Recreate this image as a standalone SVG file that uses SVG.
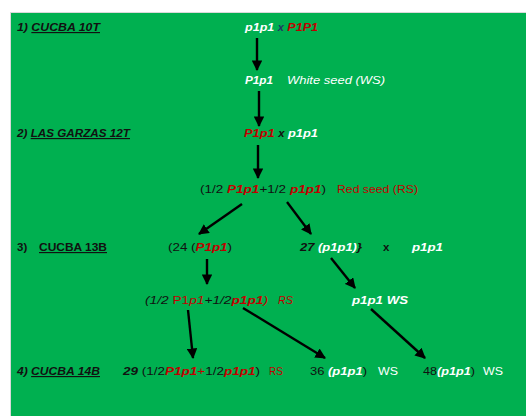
<svg xmlns="http://www.w3.org/2000/svg" width="526" height="416" viewBox="0 0 526 416">
<style>
text{font-family:"Liberation Sans",Arial,sans-serif;font-size:11.5px;fill:#111}
.bi{font-weight:bold;font-style:italic}
.i{font-style:italic}
.b{font-weight:bold}
.n{font-weight:normal;font-style:normal}
.w{fill:#ffffff}
.r{fill:#C00000}
.k{fill:#111111}
.nv{fill:#1F3864}
.u{text-decoration:underline}
.c{stroke:#000;stroke-width:2.4;fill:none;marker-end:url(#ah)}
</style>
<defs>
<marker id="ah" viewBox="0 0 10 10" refX="9" refY="5" markerWidth="4.4" markerHeight="4.4" orient="auto" markerUnits="strokeWidth">
<path d="M0,0 L10,5 L0,10 Z" fill="#000"/>
</marker>
</defs>
<rect x="0" y="0" width="526" height="416" fill="#ffffff"/>
<rect x="10.5" y="12.5" width="520" height="410" fill="#00B050" stroke="#d9d9d9" stroke-width="1"/>

<g id="labels">
<text class="bi" x="17" y="31" textLength="83" lengthAdjust="spacingAndGlyphs">1) <tspan class="u">CUCBA 10T</tspan></text>
<text class="bi" x="17" y="137" textLength="113" lengthAdjust="spacingAndGlyphs">2) <tspan class="u">LAS GARZAS 12T</tspan></text>
<text class="b" x="17" y="251">3)</text>
<text class="b u" x="39" y="251" textLength="68" lengthAdjust="spacingAndGlyphs">CUCBA 13B</text>
<text class="bi" x="17" y="375" textLength="83" lengthAdjust="spacingAndGlyphs">4) <tspan class="u">CUCBA 14B</tspan></text>
</g>

<g id="n1">
<text class="bi" x="245" y="31" textLength="73" lengthAdjust="spacingAndGlyphs"><tspan class="w">p1p1</tspan> <tspan class="nv" font-size="10">x</tspan> <tspan class="r">P1P1</tspan></text>
</g>
<g id="n2">
<text class="bi w" x="245" y="84" textLength="28" lengthAdjust="spacingAndGlyphs">P1p1</text>
<text class="i w" x="287" y="84" textLength="98" lengthAdjust="spacingAndGlyphs">White seed (WS)</text>
</g>
<g id="n3">
<text class="bi" x="244" y="137" textLength="74" lengthAdjust="spacingAndGlyphs"><tspan class="r">P1p1</tspan> <tspan class="k" font-size="10">x</tspan> <tspan class="w">p1p1</tspan></text>
</g>
<g id="n4">
<text x="200" y="193" textLength="126" lengthAdjust="spacingAndGlyphs">(1/2 <tspan class="bi r">P1p1</tspan>+1/2 <tspan class="bi r">p1p1</tspan>)</text>
<text class="r" x="337" y="193" textLength="81" lengthAdjust="spacingAndGlyphs">Red seed (RS)</text>
</g>
<g id="n5">
<text x="168" y="251" textLength="64" lengthAdjust="spacingAndGlyphs">(24 (<tspan class="bi r">P1p1</tspan>)</text>
</g>
<g id="n6">
<text class="bi" x="300" y="251" textLength="62" lengthAdjust="spacingAndGlyphs">27 <tspan class="w">(p1p1)</tspan>}</text>
<text class="b" x="383" y="251" font-size="10">x</text>
<text class="bi w" x="412" y="251" textLength="31" lengthAdjust="spacingAndGlyphs">p1p1</text>
</g>
<g id="n7">
<text class="i" x="145" y="304" textLength="123" lengthAdjust="spacingAndGlyphs">(1/2 <tspan class="r b n">P1</tspan><tspan class="r i">p1</tspan>+1/2<tspan class="r bi">p1p1</tspan><tspan class="r">)</tspan></text>
<text class="i r" x="278" y="304" textLength="15" lengthAdjust="spacingAndGlyphs">RS</text>
</g>
<g id="n8">
<text class="bi w" x="352" y="304" textLength="56" lengthAdjust="spacingAndGlyphs">p1p1  WS</text>
</g>
<g id="n9">
<text x="123" y="375" textLength="137" lengthAdjust="spacingAndGlyphs"><tspan class="bi">29</tspan> (1/2<tspan class="bi r">P1p1</tspan><tspan class="r">+</tspan>1/2<tspan class="bi r">p1p1</tspan>)</text>
<text class="r" x="269" y="375" textLength="14" lengthAdjust="spacingAndGlyphs">RS</text>
</g>
<g id="n10">
<text x="310" y="375" textLength="57" lengthAdjust="spacingAndGlyphs">36 <tspan class="bi w">(p1p1</tspan>)</text>
<text class="w" x="378" y="375" textLength="20" lengthAdjust="spacingAndGlyphs">WS</text>
</g>
<g id="n11">
<text x="423" y="375" textLength="52" lengthAdjust="spacingAndGlyphs">48<tspan class="bi w">(p1p1</tspan>)</text>
<text class="w" x="483" y="375" textLength="20" lengthAdjust="spacingAndGlyphs">WS</text>
</g>

<g id="connectors">
<line class="c" x1="257" y1="38" x2="257" y2="70"/>
<line class="c" x1="259" y1="91" x2="259" y2="126"/>
<line class="c" x1="258" y1="145" x2="258" y2="178"/>
<line class="c" x1="242" y1="204" x2="199" y2="234"/>
<line class="c" x1="287" y1="202" x2="311" y2="234"/>
<line class="c" x1="207" y1="259" x2="207" y2="284"/>
<line class="c" x1="331" y1="258" x2="355" y2="288"/>
<line class="c" x1="188" y1="310" x2="193" y2="358"/>
<line class="c" x1="243" y1="308" x2="325" y2="358"/>
<line class="c" x1="371" y1="309" x2="425" y2="358"/>
</g>
</svg>
